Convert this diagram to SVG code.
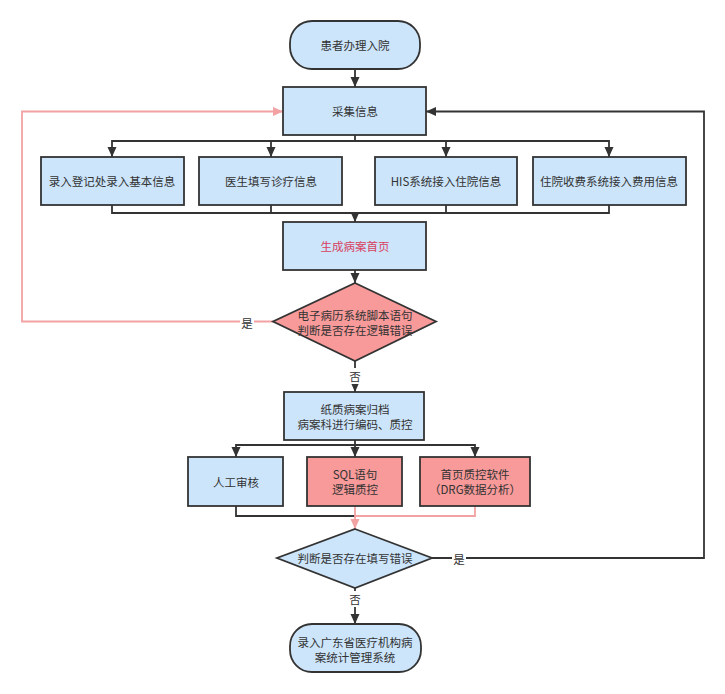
<svg xmlns="http://www.w3.org/2000/svg" width="725" height="694" viewBox="0 0 725 694">
<style>
  .blue{fill:#cce5fb;stroke:#333;stroke-width:1.8}
  .pink{fill:#f89a9a;stroke:#333;stroke-width:1.8}
  .t{font-family:"Noto Sans CJK SC","Liberation Sans",sans-serif;font-size:11.5px;fill:#333;text-anchor:middle;dominant-baseline:central}
  .red{fill:#d9405e}
  .ln{fill:none;stroke:#333;stroke-width:1.8}
  .pl{fill:none;stroke:#f2a2a2;stroke-width:1.8}
  .lb{fill:#fff}
</style>
<defs>
  <marker id="ab" markerUnits="userSpaceOnUse" markerWidth="10" markerHeight="10" refX="10" refY="5" orient="auto" viewBox="0 0 10 10">
    <path d="M0,0.5 L10,5 L0,9.5 z" fill="#333"/>
  </marker>
  <marker id="ap" markerUnits="userSpaceOnUse" markerWidth="10" markerHeight="10" refX="10" refY="5" orient="auto" viewBox="0 0 10 10">
    <path d="M0,0.5 L10,5 L0,9.5 z" fill="#f2a2a2"/>
  </marker>
</defs>
<rect width="725" height="694" fill="#fff"/>

<g id="connectors">
  <path class="ln" d="M355,69 V87" marker-end="url(#ab)"/>
  <path class="ln" d="M355,135 V141 H112 V157" marker-end="url(#ab)"/>
  <path class="ln" d="M271,141 V157" marker-end="url(#ab)"/>
  <path class="ln" d="M355,141 H446 V157" marker-end="url(#ab)"/>
  <path class="ln" d="M446,141 H609 V157" marker-end="url(#ab)"/>
  <path class="ln" d="M112,205 V213 H609 V205"/>
  <path class="ln" d="M271,205 V213"/>
  <path class="ln" d="M446,205 V213"/>
  <path class="ln" d="M355,213 V222" marker-end="url(#ab)"/>
  <path class="ln" d="M355,270 V283" marker-end="url(#ab)"/>
  <path class="pl" d="M273,321.5 H22 V111.5 H283" marker-end="url(#ap)"/>
  <path class="ln" d="M355,361 V392" marker-end="url(#ab)"/>
  <path class="ln" d="M355,440 V445 H236 V457" marker-end="url(#ab)"/>
  <path class="ln" d="M355,445 V457" marker-end="url(#ab)"/>
  <path class="ln" d="M355,445 H475 V457" marker-end="url(#ab)"/>
  <path class="ln" d="M236,506 V516 H355"/>
  <path class="pl" d="M475,506 V516 H355"/>
  <path class="pl" d="M355,506 V529" marker-end="url(#ap)"/>
  <path class="ln" d="M432,558 H704 V111.5 H426" marker-end="url(#ab)"/>
  <path class="ln" d="M355,588 V624" marker-end="url(#ab)"/>
  <rect class="lb" x="240" y="314" width="14" height="16"/>
  <text class="t" x="247" y="323">是</text>
  <rect class="lb" x="348" y="368" width="14" height="16"/>
  <text class="t" x="355" y="376">否</text>
  <rect class="lb" x="452" y="550" width="14" height="16"/>
  <text class="t" x="459" y="559">是</text>
  <rect class="lb" x="348" y="591" width="14" height="16"/>
  <text class="t" x="355" y="599">否</text>
</g>

<g id="start">
  <rect class="blue" x="290" y="21" width="130" height="48" rx="22" ry="22"/>
  <text class="t" x="355" y="45">患者办理入院</text>
</g>
<g id="collect">
  <rect class="blue" x="283" y="87" width="143" height="48"/>
  <text class="t" x="355" y="111">采集信息</text>
</g>
<g id="reg">
  <rect class="blue" x="41" y="157" width="143" height="48"/>
  <text class="t" x="112" y="181">录入登记处录入基本信息</text>
</g>
<g id="doctor">
  <rect class="blue" x="199" y="157" width="143" height="48"/>
  <text class="t" x="271" y="181">医生填写诊疗信息</text>
</g>
<g id="his">
  <rect class="blue" x="375" y="157" width="142" height="48"/>
  <text class="t" x="446" y="181">HIS系统接入住院信息</text>
</g>
<g id="fee">
  <rect class="blue" x="533" y="157" width="153" height="48"/>
  <text class="t" x="609" y="181">住院收费系统接入费用信息</text>
</g>
<g id="gen">
  <rect class="blue" x="283" y="222" width="143" height="48"/>
  <text class="t red" x="355" y="246">生成病案首页</text>
</g>
<g id="check1">
  <polygon class="pink" points="355,283 436,321.5 355,361 273,321.5"/>
  <text class="t" x="355" y="315">电子病历系统脚本语句</text>
  <text class="t" x="355" y="330">判断是否存在逻辑错误</text>
</g>
<g id="archive">
  <rect class="blue" x="284" y="392" width="140" height="48"/>
  <text class="t" x="355" y="408.5">纸质病案归档</text>
  <text class="t" x="355" y="424">病案科进行编码、质控</text>
</g>
<g id="manual">
  <rect class="blue" x="188" y="457" width="95" height="49"/>
  <text class="t" x="236" y="482">人工审核</text>
</g>
<g id="sql">
  <rect class="pink" x="307" y="457" width="95" height="49"/>
  <text class="t" x="355" y="474">SQL语句</text>
  <text class="t" x="355" y="489">逻辑质控</text>
</g>
<g id="drg">
  <rect class="pink" x="420" y="457" width="110" height="49"/>
  <text class="t" x="475" y="474">首页质控软件</text>
  <text class="t" x="475" y="489">（DRG数据分析）</text>
</g>
<g id="check2">
  <polygon class="blue" points="355,529 432,558 355,588 277,558"/>
  <text class="t" x="355" y="558">判断是否存在填写错误</text>
</g>
<g id="end">
  <rect class="blue" x="290" y="624" width="131" height="48" rx="22" ry="22"/>
  <text class="t" x="355" y="642">录入广东省医疗机构病</text>
  <text class="t" x="355" y="657">案统计管理系统</text>
</g>
</svg>
